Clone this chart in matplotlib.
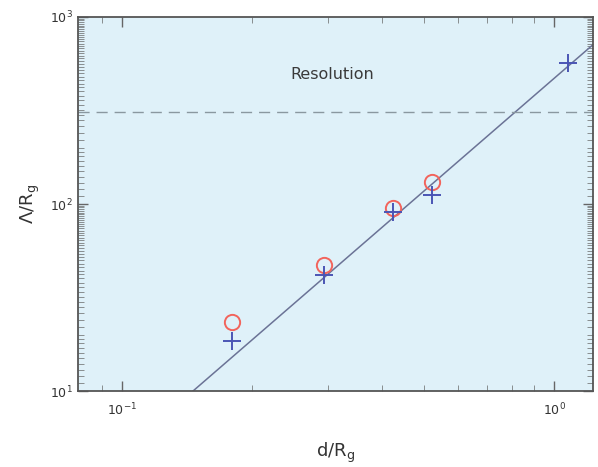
import matplotlib
matplotlib.use("Agg")
import matplotlib.pyplot as plt
import numpy as np
from matplotlib.ticker import FixedLocator, NullFormatter

# values
d_cross = [0.180, 0.294, 0.424, 0.522, 1.077]
lam_cross = [18.5, 41.7, 90.6, 111.7, 567]
d_circle = [0.180, 0.294, 0.424, 0.522]
lam_circle = [23.4, 47.2, 95.2, 131]
fit_coef = 470.0      # Lambda = coef * d^2
fit_power = 2.0
resolution = 310.0

xticks = [0.1, 1.0]
xtick_labels = [r'$\mathregular{10^{-1}}$', r'$\mathregular{10^{0}}$']
yticks = [10, 100, 1000]
ytick_labels = [r'$\mathregular{10^{1}}$', r'$\mathregular{10^{2}}$', r'$\mathregular{10^{3}}$']

plt.rcParams['font.family'] = ['DejaVu Sans']
plt.rcParams['mathtext.fontset'] = 'dejavusans'

fig = plt.figure(figsize=(5.98, 4.67), dpi=100)
ax = fig.add_axes([0.1304, 0.1627, 0.8612, 0.8009])
ax.set_facecolor('#dff1f9')

ax.set_xscale('log')
ax.set_yscale('log')
ax.set_xlim(0.079, 1.23)
ax.set_ylim(10, 1000)

xs = np.array([0.079, 1.23])
ax.plot(xs, fit_coef * xs ** fit_power, color='#6b7396', lw=1.1)
ax.axhline(resolution, color='#8a98a0', lw=1.0, ls=(0, (8, 5)))

ax.plot(d_circle, lam_circle, 'o', ms=11, mfc='none', mec='#f2645c', mew=1.4)
ax.plot(d_cross, lam_cross, '+', ms=13, color='#4a55b5', mew=1.4)

ax.text(0.245, 490, 'Resolution', fontsize=11.5, color='#3a3a3a', va='center')

ax.set_xticks(xticks)
ax.set_xticklabels(xtick_labels)
ax.set_yticks(yticks)
ax.set_yticklabels(ytick_labels)
xminor = [0.09] + [i / 10 for i in range(2, 10)]
yminor = list(range(11, 20)) + list(range(20, 100, 2)) + list(range(110, 200, 10)) + list(range(200, 1000, 20))
ax.xaxis.set_minor_locator(FixedLocator(xminor))
ax.yaxis.set_minor_locator(FixedLocator(yminor))
ax.xaxis.set_minor_formatter(NullFormatter())
ax.yaxis.set_minor_formatter(NullFormatter())

ax.tick_params(which='both', direction='in', top=True, right=True,
               colors='#666666', labelcolor='#333333', labelsize=9)
ax.tick_params(which='major', length=7, width=1.0)
ax.tick_params(which='minor', length=4, width=0.5)
ax.tick_params(axis='x', which='major', pad=8)

for s in ax.spines.values():
    s.set_color('#555555')
    s.set_linewidth(1.3)

ax.set_xlabel(r'$\mathregular{d/R_g}$', fontsize=13, color='#333333', labelpad=16)
ax.set_ylabel(r'$\mathregular{\Lambda/R_g}$', fontsize=13, color='#333333', labelpad=6)

fig.savefig('out.png', dpi=100, facecolor='white')
